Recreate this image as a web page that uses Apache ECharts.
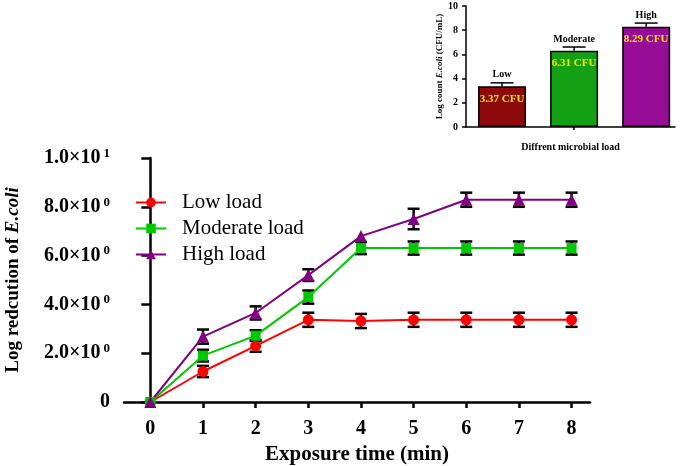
<!DOCTYPE html>
<html>
<head>
<meta charset="utf-8">
<script src="https://cdn.jsdelivr.net/npm/echarts@6/dist/echarts.min.js"></script>
<style>html,body{margin:0;padding:0;background:#fff}#c{width:685px;height:466px}</style>
</head>
<body>
<div id="c"></div>
<script>
// ---- Main chart data ----
const timePoints = [0, 1, 2, 3, 4, 5, 6, 7, 8];
const seriesNames = ['Low load', 'Moderate load', 'High load'];
const lowLoad = [0, 1.25, 2.30, 3.37, 3.32, 3.37, 3.37, 3.37, 3.37];
const moderateLoad = [0, 1.90, 2.72, 4.30, 6.31, 6.31, 6.31, 6.31, 6.31];
const highLoad = [0, 2.68, 3.65, 5.20, 6.80, 7.50, 8.29, 8.29, 8.29];
const lowErr = [0, 0.23, 0.24, 0.29, 0.29, 0.29, 0.29, 0.29, 0.29];
const moderateErr = [0, 0.24, 0.22, 0.27, 0.25, 0.27, 0.27, 0.27, 0.27];
const highErr = [0, 0.29, 0.27, 0.24, 0, 0.42, 0.29, 0.29, 0.29];
const yTickValues = [0, 2, 4, 6, 8, 10];
const yTickMantissa = ['0', '2.0', '4.0', '6.0', '8.0', '1.0'];
const yTickExponent = ['', '0', '0', '0', '0', '1'];

// ---- Inset chart data ----
const loadCategories = ['Low', 'Moderate', 'High'];
const loadPositions = [1, 2, 3];
const loadCounts = [3.37, 6.31, 8.29];
const loadErr = [0.28, 0.30, 0.30];

const FONT = 'Liberation Serif';
const chart = echarts.init(document.getElementById('c'));

function errorBarRender(capW, lw, upOnly, withText) {
  return function (params, api) {
    const x = api.value(0), y = api.value(1), e = api.value(2);
    const children = [];
    const h = capW / 2;
    if (e > 0) {
      const pLow = api.coord([x, upOnly ? y : y - e]);
      const pHigh = api.coord([x, y + e]);
      const st = { stroke: '#000', lineWidth: lw };
      children.push({ type: 'line', shape: { x1: pLow[0], y1: pLow[1], x2: pHigh[0], y2: pHigh[1] }, style: st });
      children.push({ type: 'line', shape: { x1: pHigh[0] - h, y1: pHigh[1], x2: pHigh[0] + h, y2: pHigh[1] }, style: st });
      if (!upOnly) children.push({ type: 'line', shape: { x1: pLow[0] - h, y1: pLow[1], x2: pLow[0] + h, y2: pLow[1] }, style: st });
      if (withText) {
        children.push({ type: 'text', style: { x: pHigh[0], y: pHigh[1] - 3, text: loadCategories[params.dataIndex], fill: '#000', font: 'bold 10px "' + FONT + '"', align: 'center', verticalAlign: 'bottom' } });
      }
    }
    return { type: 'group', children: children };
  };
}

function triples(xs, ys, es) { return xs.map((x, i) => [x, ys[i], es[i]]); }

const lineColors = ['#ff0000', '#00c800', '#800080'];
const symbols = ['circle', 'rect', 'triangle'];
const symbolSizes = [11, 10, 12];
const mainData = [lowLoad, moderateLoad, highLoad];
const mainErr = [lowErr, moderateErr, highErr];

const series = [];
mainData.forEach((d, k) => {
  series.push({
    type: 'custom', xAxisIndex: 0, yAxisIndex: 0, z: 1, silent: true,
    renderItem: errorBarRender(12, 2.5, false, false),
    data: triples(timePoints, d, mainErr[k])
  });
});
mainData.forEach((d, k) => {
  series.push({
    name: seriesNames[k], type: 'line', xAxisIndex: 0, yAxisIndex: 0, z: 3,
    data: timePoints.map((t, i) => [t, d[i]]),
    symbol: symbols[k], symbolSize: symbolSizes[k],
    lineStyle: { color: lineColors[k], width: 2 },
    itemStyle: { color: lineColors[k] },
    animation: false
  });
});
series.push({
  type: 'bar', xAxisIndex: 1, yAxisIndex: 1, barWidth: 48, z: 2,
  data: loadPositions.map((p, i) => ({
    value: [p, loadCounts[i]],
    itemStyle: { color: ['#8e0a0a', '#14a014', '#960c96'][i] }
  })),
  itemStyle: { borderColor: '#000', borderWidth: 1.5 },
  label: {
    show: true, position: 'insideTop', distance: 7,
    formatter: p => p.value[1].toFixed(2) + ' CFU',
    color: '#f0e800', fontFamily: FONT, fontWeight: 'bold', fontSize: 11
  },
  animation: false
});
series.push({
  type: 'custom', xAxisIndex: 1, yAxisIndex: 1, z: 3, silent: true,
  renderItem: errorBarRender(23, 1.5, true, true),
  data: triples(loadPositions, loadCounts, loadErr)
});

const option = {
  animation: false,
  textStyle: { fontFamily: FONT },
  legend: {
    data: seriesNames, orient: 'vertical', left: 135, top: 192, padding: 0,
    itemWidth: 30, itemHeight: 12, itemGap: 5,
    textStyle: { fontFamily: FONT, fontSize: 21, color: '#000', lineHeight: 20, padding: [0, 0, 0, 11] }
  },
  grid: [
    { left: 124, top: 158, width: 466, height: 244, containLabel: false, outerBoundsMode: 'none' },
    { left: 466, top: 6, width: 209, height: 121, containLabel: false, outerBoundsMode: 'none' }
  ],
  xAxis: [
    {
      type: 'value', gridIndex: 0, min: -0.5, max: 8.35,
      axisLine: { lineStyle: { color: '#000', width: 2.5 } },
      axisTick: { show: true, customValues: timePoints, length: 6, lineStyle: { color: '#000', width: 2.5 } },
      axisLabel: { customValues: timePoints, color: '#000', fontFamily: FONT, fontWeight: 'bold', fontSize: 20, margin: 17 },
      splitLine: { show: false },
      name: 'Exposure time (min)', nameLocation: 'middle', nameGap: 41,
      nameTextStyle: { color: '#000', fontFamily: FONT, fontWeight: 'bold', fontSize: 21 }
    },
    {
      type: 'value', gridIndex: 1, min: 0.5, max: 3.4,
      axisLine: { lineStyle: { color: '#000', width: 1.5 } },
      axisTick: { show: true, customValues: [2], length: 3, lineStyle: { color: '#000', width: 1.5 } },
      axisLabel: { show: false },
      splitLine: { show: false },
      name: 'Diffrent microbial load', nameLocation: 'middle', nameGap: 15,
      nameTextStyle: { color: '#000', fontFamily: FONT, fontWeight: 'bold', fontSize: 10 }
    }
  ],
  yAxis: [
    {
      type: 'value', gridIndex: 0, min: 0, max: 10, interval: 2,
      axisLine: { show: true, lineStyle: { color: '#000', width: 2.5 } },
      axisTick: { show: true, length: 9, lineStyle: { color: '#000', width: 2.5 } },
      axisLabel: {
        margin: 14,
        formatter: function (v) {
          const i = yTickValues.indexOf(v);
          if (i < 0) return '';
          return yTickExponent[i] ? '{m|' + yTickMantissa[i] + '×10}{e|' + yTickExponent[i] + '}' : '{m|' + yTickMantissa[i] + '}';
        },
        rich: {
          m: { fontFamily: FONT, fontWeight: 'bold', fontSize: 20, color: '#000', lineHeight: 22 },
          e: { fontFamily: FONT, fontWeight: 'bold', fontSize: 13, color: '#000', verticalAlign: 'top', padding: [0, 0, 0, 3] }
        }
      },
      splitLine: { show: false },
      name: '{a|Log redcution of }{b|E.coli}', nameLocation: 'middle', nameRotate: 90, nameGap: 101,
      nameTextStyle: {
        rich: {
          a: { fontFamily: FONT, fontWeight: 'bold', fontSize: 19, color: '#000' },
          b: { fontFamily: FONT, fontWeight: 'bold', fontStyle: 'italic', fontSize: 19, color: '#000' }
        }
      }
    },
    {
      type: 'value', gridIndex: 1, min: 0, max: 10, interval: 2,
      axisLine: { show: true, lineStyle: { color: '#000', width: 1.5 } },
      axisTick: { show: true, length: 4, lineStyle: { color: '#000', width: 1.5 } },
      axisLabel: { margin: 8, color: '#000', fontFamily: FONT, fontWeight: 'bold', fontSize: 10 },
      splitLine: { show: false },
      name: '{a|Log count }{b|E.coli}{a| (CFU/mL)}', nameLocation: 'middle', nameRotate: 90, nameGap: 22,
      nameTextStyle: {
        rich: {
          a: { fontFamily: FONT, fontWeight: 'bold', fontSize: 9, color: '#000' },
          b: { fontFamily: FONT, fontWeight: 'bold', fontStyle: 'italic', fontSize: 9, color: '#000' }
        }
      }
    }
  ],
  series: series
};
chart.setOption(option);
</script>
</body>
</html>
